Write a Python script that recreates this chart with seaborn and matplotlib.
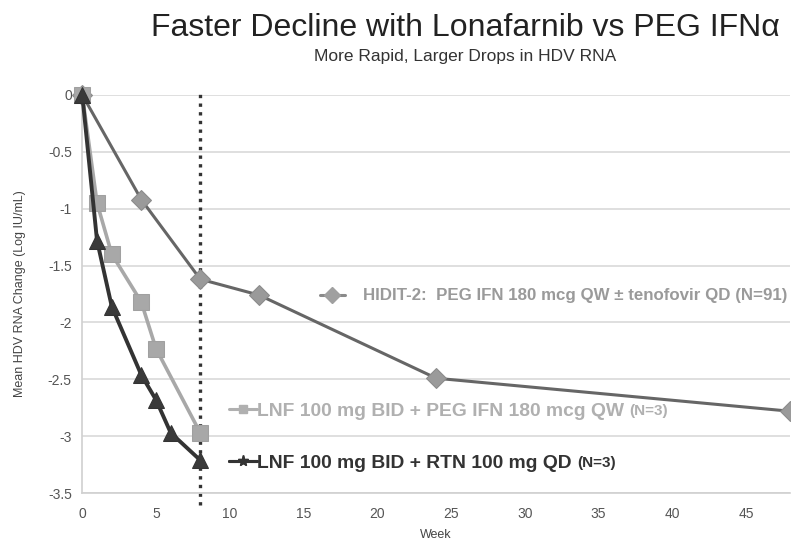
import numpy as np
import pandas as pd
import matplotlib
matplotlib.use("Agg")
import matplotlib.pyplot as plt
import seaborn as sns
from matplotlib.lines import Line2D

sns.set_theme(style="white")
plt.rcParams['font.family'] = ['Liberation Sans', 'DejaVu Sans']

# --- data ---
hidit_week = [0, 4, 8, 12, 24, 48]
hidit_chg = [0, -0.92, -1.62, -1.76, -2.49, -2.78]

peg_week = [0, 1, 2, 4, 5, 8]
peg_chg = [0, -0.95, -1.40, -1.82, -2.23, -2.97]

rtn_week = [0, 1, 2, 4, 5, 6, 8]
rtn_chg = [0, -1.28, -1.86, -2.46, -2.68, -2.97, -3.21]

hidit_label = "HIDIT-2:  PEG IFN 180 mcg QW \u00b1 tenofovir QD (N=91)"
peg_label = "LNF 100 mg BID + PEG IFN 180 mcg QW"
rtn_label = "LNF 100 mg BID + RTN 100 mg QD"
n_small = "(N=3)"

x_ticks = [0, 5, 10, 15, 20, 25, 30, 35, 40, 45]
y_ticks = [0, -0.5, -1, -1.5, -2, -2.5, -3, -3.5]

fig = plt.figure(figsize=(7.91, 5.48), dpi=100)
ax = fig.add_axes([0.104, 0.100, 0.895, 0.727])

# dotted line at week 8
ax.axvline(8, ymin=-0.03, ymax=1.01, color='#333333', linestyle=(0, (1, 1.6)),
           lw=2.4, clip_on=False, zorder=1)

sns.lineplot(x=hidit_week, y=hidit_chg, ax=ax, color='#666666', lw=2.2,
             marker='D', markersize=10, markerfacecolor='#9a9a9a',
             markeredgecolor='#8a8a8a', clip_on=False, zorder=3)
sns.lineplot(x=peg_week, y=peg_chg, ax=ax, color='#a8a8a8', lw=2.6,
             marker='s', markersize=11, markerfacecolor='#a8a8a8',
             markeredgecolor='#a0a0a0', clip_on=False, zorder=4)
sns.lineplot(x=rtn_week, y=rtn_chg, ax=ax, color='#333333', lw=2.8,
             marker='^', markersize=11, markerfacecolor='#3a3a3a',
             markeredgecolor='#333333', clip_on=False, zorder=5)

ax.set_xlim(0, 48)
ax.set_ylim(-3.5, 0)
ax.set_xticks(x_ticks)
ax.set_yticks(y_ticks)
ax.set_yticklabels(['0', '-0.5', '-1', '-1.5', '-2', '-2.5', '-3', '-3.5'])
ax.yaxis.grid(True, color='#d9d9d9', lw=1.2)
ax.xaxis.grid(False)
for s in ['top', 'right']:
    ax.spines[s].set_visible(False)
for s in ['left', 'bottom']:
    ax.spines[s].set_color('#d0d0d0')
    ax.spines[s].set_linewidth(1.2)
ax.tick_params(axis='both', colors='#d0d0d0', labelcolor='#555555',
               labelsize=10, length=4, width=1)
ax.tick_params(axis='x', pad=8, direction='inout')
ax.set_xlabel('Week', fontsize=9, color='#444444', labelpad=6)
ax.set_ylabel('Mean HDV RNA Change (Log IU/mL)', fontsize=9, color='#444444',
              labelpad=16)


# inline series labels: legend key (no text) + text next to it
def inline_label(handle, text, color, key_x, text_x, y, size, extra=None):
    leg = ax.legend(handles=[handle], labels=[''], loc='center left',
                    bbox_to_anchor=(key_x, y), frameon=False, borderpad=0,
                    borderaxespad=0, handlelength=1.45, handletextpad=0,
                    prop={'size': size})
    ax.add_artist(leg)
    t = ax.text(text_x, y, text, transform=ax.transAxes, ha='left',
                va='center', fontsize=size, fontweight='bold', color=color)
    if extra:
        ax.annotate(extra, xy=(1, 0), xycoords=t, xytext=(4, 1),
                    textcoords='offset points', ha='left', va='bottom',
                    fontsize=11, fontweight='bold', color=color)


inline_label(Line2D([], [], color='#8a8a8a', lw=2.2, marker='D', markersize=8,
                    markerfacecolor='#a0a0a0', markeredgecolor='#a0a0a0'),
             hidit_label, '#9a9a9a', 0.336, 0.397, 0.495, 12.2)
inline_label(Line2D([], [], color='#b0b0b0', lw=2.2, marker='s', markersize=6,
                    markerfacecolor='#b0b0b0', markeredgecolor='#b0b0b0'),
             peg_label, '#b0b0b0', 0.207, 0.247, 0.206, 13.9, extra=n_small)
inline_label(Line2D([], [], color='#333333', lw=2.2, marker='*', markersize=8,
                    markerfacecolor='#333333', markeredgecolor='#333333'),
             rtn_label, '#333333', 0.207, 0.247, 0.075, 13.9, extra=n_small)

fig.text(0.588, 0.948, 'Faster Decline with Lonafarnib vs PEG IFN\u03b1',
         ha='center', va='center', fontsize=23, color='#222222')
fig.text(0.588, 0.897, 'More Rapid, Larger Drops in HDV RNA',
         ha='center', va='center', fontsize=12.5, color='#333333')

fig.savefig('out.png', dpi=100)
